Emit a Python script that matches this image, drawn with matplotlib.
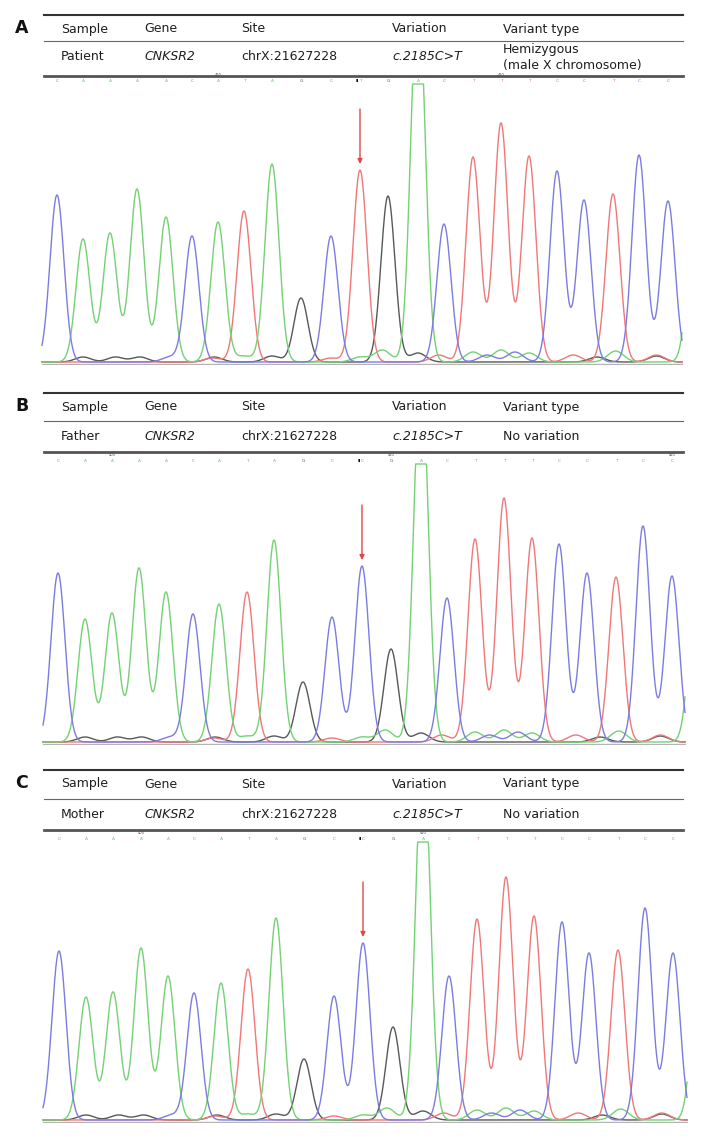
"""Sanger chromatograms of CNKSR2 c.2185C>T for patient, father and mother."""

import numpy as np
import matplotlib
matplotlib.use("Agg")
import matplotlib.pyplot as plt

plt.rcParams["font.family"] = ["DejaVu Sans"]

W, H = 728, 1147

# ---- table data ----
COLUMNS = ["Sample", "Gene", "Site", "Variation", "Variant type"]
SAMPLES = ["Patient", "Father", "Mother"]
GENE = "CNKSR2"
SITE = "chrX:21627228"
VARIATION = "c.2185C>T"
VARIANT_TYPES = ["Hemizygous\n(male X chromosome)", "No variation", "No variation"]
PANEL_LABELS = ["A", "B", "C"]

# ---- base calls ----
PATIENT_BASES = list("CAAAACATAGCTGACTTTCCTCC")
FATHER_BASES = list("CAAAACATAGCCGACTTTCCTCC")
MOTHER_BASES = list("CAAAACATAGCCGACTTTCCTCC")

# peak centres (scan units)
PATIENT_POS = [57, 83, 110, 137, 166, 192, 218, 244, 272, 301, 331, 360,
               388, 418, 444, 473, 501, 529, 557, 584, 613, 639, 668]
FATHER_POS = [58, 85, 112, 139, 166, 193, 219, 247, 274, 303, 332, 362,
              391, 421, 447, 475, 504, 532, 559, 587, 616, 643, 672]
MOTHER_POS = [59, 86, 113, 141, 168, 194, 221, 248, 276, 304, 334, 363,
              393, 423, 449, 477, 506, 534, 562, 589, 618, 645, 673]

# peak heights (signal units), peak 14 saturates the detector
PATIENT_HEIGHT = [167, 123, 129, 173, 145, 126, 140, 151, 198, 64, 126, 192,
                  166, 380, 138, 205, 239, 206, 191, 162, 168, 207, 161]
FATHER_HEIGHT = [169, 123, 129, 174, 150, 128, 138, 150, 202, 60, 125, 176,
                 93, 380, 144, 203, 244, 204, 198, 169, 165, 216, 166]
MOTHER_HEIGHT = [169, 123, 128, 172, 144, 127, 137, 151, 202, 61, 124, 177,
                 93, 380, 144, 201, 243, 204, 198, 167, 170, 212, 167]

# next (uncalled) A peak just past the right edge
TRAIL_POS = [695, 696, 699]
TRAIL_HEIGHT = [163, 155, 165]

# small background peaks: (position as fractional base index, base, height)
MINOR_IDX = [1.0, 2.2, 3.1, 4.15, 5.8, 5.85, 7.0, 8.0, 10.0, 11.0, 11.8, 13.0,
             13.8, 15.0, 15.5, 16.0, 16.5, 17.0, 18.6, 19.45, 20.1, 21.6, 21.6]
MINOR_BASE = list("GGGCTGAGTAAGTACACATGATG")
MINOR_HEIGHT = [5, 5, 5, 5, 4, 5, 6, 6, 4, 5, 12, 9,
                7, 10, 7, 12, 10, 9, 7, 5, 11, 7, 6]

# position numbers printed above the base calls
POS_NUMBERS = [{6: "410", 16: "420"},
               {2: "400", 12: "410", 22: "420"},
               {3: "400", 13: "410"}]
VARIANT_INDEX = 11

SATURATION = 278
PEAK_SIGMA = 7.0
MINOR_SIGMA = 8.0

BASE_COLORS = {"A": "#74d174", "C": "#7c7ce0", "G": "#585858", "T": "#ef7878"}

# ---- layout (pixels) ----
TABLE_TOP = [15, 393, 770]
HEADER_Y = [29, 407, 784]
SEP_Y = [41, 421, 799]
ROW_Y = [57, 437, 814]
TABLE_BOTTOM = [76, 452, 830]
BASELINE = [362, 742, 1120]
SCAN_RANGE = [(42, 682), (43, 685), (43, 687)]
COL_X = [61, 144, 241, 392, 503]
LINE_X = (44, 683)
TEXT_COLOR = "#1e1e1e"

fig = plt.figure(figsize=(W / 100, H / 100), dpi=100)
fig.patch.set_facecolor("white")

panels = [
    (PATIENT_BASES, PATIENT_POS, PATIENT_HEIGHT),
    (FATHER_BASES, FATHER_POS, FATHER_HEIGHT),
    (MOTHER_BASES, MOTHER_POS, MOTHER_HEIGHT),
]

for p, (bases, pos, hts) in enumerate(panels):
    base_px = BASELINE[p]
    ax = fig.add_axes([40 / W, 1 - (base_px + 3) / H, 648 / W, 285 / H])
    ax.set_xlim(40, 688)
    ax.set_ylim(-3, 282)
    ax.axis("off")

    x0, x1 = SCAN_RANGE[p]
    x = np.linspace(x0, x1, 1400)
    minor_pos = np.interp(MINOR_IDX, np.arange(len(pos)), pos)

    ax.plot([x0, x1], [-1.5, -1.5], color="#b4b4b4", lw=1.0, zorder=1)

    for b in ["G", "T", "A", "C"]:
        y = np.zeros_like(x)
        for bb, mu, h in zip(bases, pos, hts):
            if bb == b:
                y += h * np.exp(-(x - mu) ** 2 / (2 * PEAK_SIGMA ** 2))
        for bb, mu, h in zip(MINOR_BASE, minor_pos, MINOR_HEIGHT):
            if bb == b:
                y += h * np.exp(-(x - mu) ** 2 / (2 * MINOR_SIGMA ** 2))
        if b == "A":
            y += TRAIL_HEIGHT[p] * np.exp(-(x - TRAIL_POS[p]) ** 2 / (2 * PEAK_SIGMA ** 2))
        y = np.minimum(y, SATURATION)
        ax.plot(x, y, color=BASE_COLORS[b], lw=1.0, zorder=2)

    # base calls along the top
    for i, (b, mu) in enumerate(zip(bases, pos)):
        ax.text(mu, 281, b, color=BASE_COLORS[b], fontsize=3.2,
                ha="center", va="center", clip_on=False)
        if i in POS_NUMBERS[p]:
            ax.text(mu, 285, POS_NUMBERS[p][i], color="#444444", fontsize=2.6,
                    ha="center", va="bottom", clip_on=False)
    ax.text(pos[VARIANT_INDEX] - 3.5, 281, "\u25ae", color="#111111", fontsize=3.2,
            ha="center", va="center", clip_on=False)

    # arrow marking c.2185
    hv = hts[VARIANT_INDEX]
    ax.annotate("", xy=(pos[VARIANT_INDEX], hv + 6),
                xytext=(pos[VARIANT_INDEX], hv + 61),
                arrowprops=dict(arrowstyle="-|>", color="#e04848", lw=1.0,
                                mutation_scale=7, shrinkA=0, shrinkB=0))

# overlay in pixel coordinates for the tables
ov = fig.add_axes([0, 0, 1, 1])
ov.set_xlim(0, W)
ov.set_ylim(H, 0)
ov.axis("off")

for p in range(3):
    ov.text(22, HEADER_Y[p] - 1, PANEL_LABELS[p], fontsize=12.5, fontweight="bold",
            ha="center", va="center", color="#111111")
    ov.plot(LINE_X, [TABLE_TOP[p]] * 2, color="#333333", lw=1.5)
    ov.plot(LINE_X, [SEP_Y[p]] * 2, color="#666666", lw=0.8)
    ov.plot(LINE_X, [TABLE_BOTTOM[p]] * 2, color="#555555", lw=2.0)

    for cx, name in zip(COL_X, COLUMNS):
        ov.text(cx, HEADER_Y[p], name, fontsize=9, ha="left", va="center",
                color=TEXT_COLOR)

    row = [SAMPLES[p], GENE, SITE, VARIATION, VARIANT_TYPES[p]]
    styles = ["normal", "italic", "normal", "italic", "normal"]
    for cx, val, st in zip(COL_X, row, styles):
        ov.text(cx, ROW_Y[p], val, fontsize=9, style=st, ha="left", va="center",
                color=TEXT_COLOR, linespacing=1.3)

fig.savefig("out.png", dpi=100, facecolor="white")
plt.close(fig)
